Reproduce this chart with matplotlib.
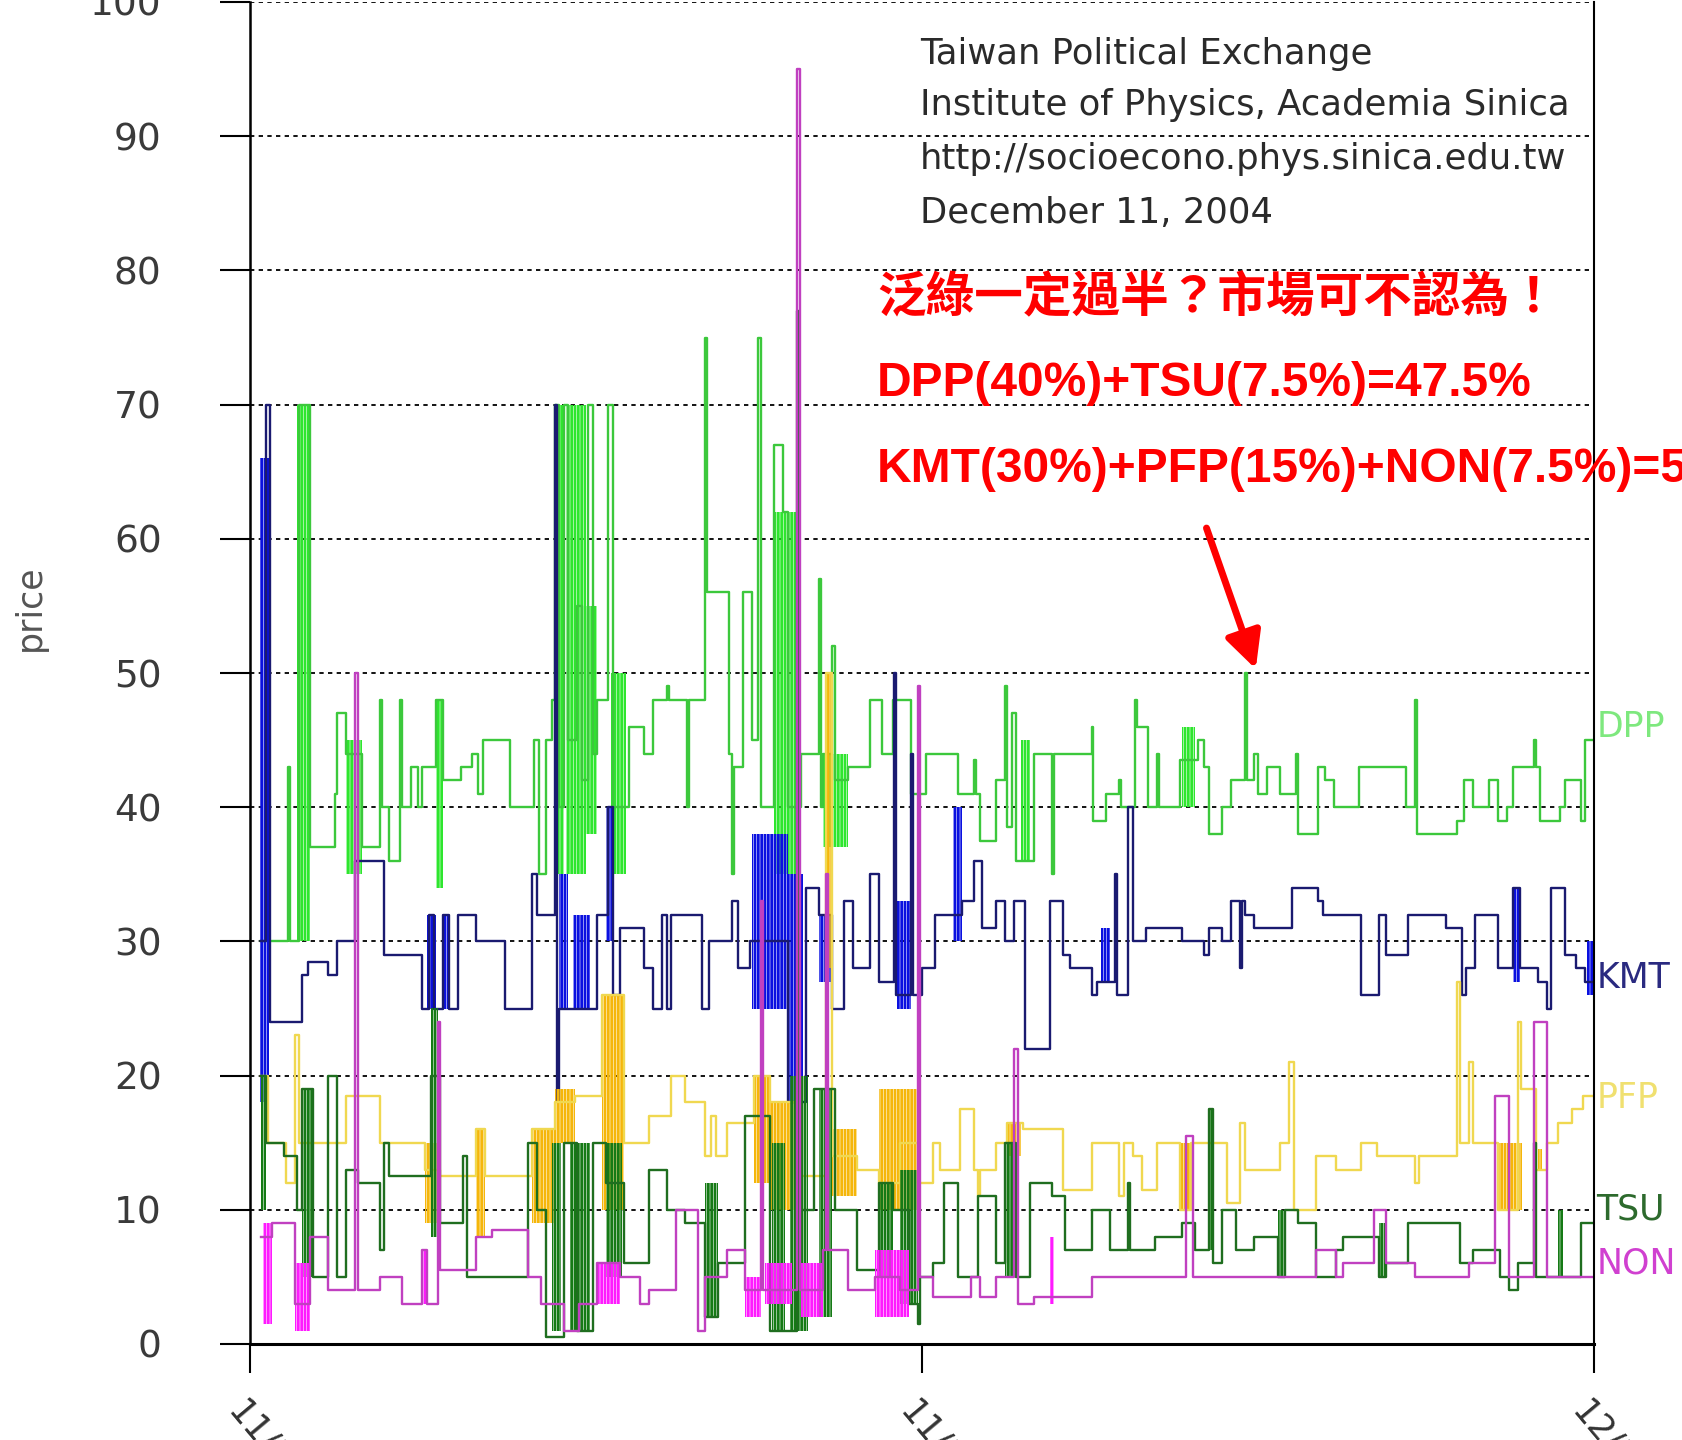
import matplotlib.pyplot as plt
import matplotlib.transforms as mtransforms

# step series: time in days from 11/1, value = price
dpp_t = [0.25, 0.85, 0.9, 1.1, 1.35, 1.9, 1.95, 2.15, 2.5, 2.9, 2.95, 3.1, 3.35, 3.4, 3.6, 3.75, 3.85,
         4.15, 4.3, 4.7, 4.95, 5.1, 5.2, 5.8, 6.35, 6.45, 6.6, 6.75, 6.8, 6.9, 7.0, 7.1, 7.3, 7.4,
         7.55, 7.65, 7.75, 8.0, 8.1, 8.45, 8.8, 9.0, 9.3, 9.35, 9.75, 9.8, 10.15, 10.2, 10.7, 10.75,
         10.8, 11.0, 11.2, 11.35, 11.4, 11.7, 11.9, 12.0, 12.3, 12.7, 12.75, 12.8, 13.0, 13.05,
         13.35, 13.85, 14.1, 14.35, 14.5, 14.75, 15.1, 15.8, 16.15, 16.2, 16.3, 16.65, 16.85, 16.9,
         17.0, 17.1, 17.5, 17.9, 17.95, 18.7, 18.8, 18.82, 19.1, 19.4, 19.45, 19.75, 19.8, 20.05,
         20.25, 20.3, 20.75, 21.15, 21.3, 21.4, 21.7, 21.9, 22.2, 22.25, 22.4, 22.5, 22.7, 23.0,
         23.35, 23.4, 23.85, 24.0, 24.2, 24.75, 25.8, 26.0, 26.05, 26.95, 27.1, 27.3, 27.65, 27.85,
         28.05, 28.2, 28.65, 28.7, 28.8, 29.25, 29.35, 29.7, 29.8, 30.0]
dpp_v = [30, 43, 30, 70, 37, 41, 47, 44, 37, 48, 40, 36, 48, 40, 43, 40, 43,
         48, 42, 43, 44, 41, 45, 40, 45, 35, 45, 48, 70, 40, 70, 45, 55, 42,
         70, 44, 48, 70, 40, 46, 44, 48, 49, 48, 40, 48, 75, 56, 44, 35,
         43, 56, 45, 75, 40, 67, 62, 40, 44, 57, 40, 44, 52, 42,
         43, 48, 44, 48, 48, 41, 44, 41, 43.5, 41, 37.5, 42, 49, 38.5,
         47, 36, 44, 35, 44, 44, 46, 39, 41, 42, 40, 48, 46, 40,
         44, 40, 43.5, 45, 43, 38, 40, 42, 50, 42, 44, 41, 43, 41,
         44, 38, 43, 42, 40, 43, 40, 48, 38, 39, 42, 40, 42, 39,
         40, 43, 45, 43, 39, 40, 42, 39, 45, 45]

kmt_t = [0.25, 0.35, 0.45, 1.15, 1.3, 1.75, 1.95, 2.35, 3.0, 3.85, 4.0, 4.1, 4.3, 4.45, 4.65, 5.05,
         5.7, 6.3, 6.4, 6.8, 6.85, 6.9, 7.75, 8.0, 8.1, 8.25, 8.8, 9.0, 9.2, 9.3, 9.4, 10.1,
         10.25, 10.75, 10.9, 11.15, 12.0, 12.4, 12.7, 13.0, 13.25, 13.45, 13.85, 14.05, 14.37,
         14.42, 14.75, 14.8, 15.0, 15.3, 15.9, 16.15, 16.35, 16.65, 16.85, 17.05, 17.3, 17.85,
         18.15, 18.3, 18.8, 18.9, 19.3, 19.35, 19.6, 19.7, 20.0, 20.8, 21.3, 21.4, 21.7, 21.9,
         22.1, 22.15, 22.2, 22.4, 23.25, 23.85, 23.95, 24.8, 25.2, 25.35, 25.85, 26.7, 27.05,
         27.15, 27.35, 27.85, 28.2, 28.35, 28.75, 28.95, 29.05, 29.35, 29.6, 29.8, 30.0]
kmt_v = [30, 70, 24, 27.5, 28.5, 27.5, 30, 36, 29, 25, 32, 25, 32, 25, 32, 30,
         25, 35, 32, 70, 18, 25, 32, 40, 26, 31, 28, 25, 32, 25, 32, 25,
         30, 33, 28, 30, 18, 34, 32, 25, 33, 28, 35, 27, 50,
         26, 44, 26, 28, 32, 33, 36, 31, 33, 30, 33, 22, 33,
         29, 28, 26, 27, 35, 26, 40, 30, 31, 30, 29, 31, 30, 33,
         28, 33, 32, 31, 34, 33, 32, 26, 32, 29, 32, 31, 26,
         28, 32, 28, 34, 28, 27, 25, 34, 29, 28, 27, 27]

pfp_t = [0.25, 0.4, 0.8, 1.0, 1.1, 2.15, 2.9, 3.9, 4.25, 5.05, 5.25, 6.3, 6.8, 7.25, 7.85, 8.35,
         8.9, 9.4, 9.7, 10.15, 10.3, 10.4, 10.65, 11.25, 11.6, 12.2, 12.85, 13.0, 13.55, 14.05,
         14.5, 14.9, 15.25, 15.4, 15.85, 16.15, 16.25, 16.3, 16.65, 16.9, 17.25, 17.85, 18.15,
         18.8, 19.4, 19.5, 19.7, 19.9, 20.25, 20.75, 21.0, 21.8, 22.1, 22.2, 23.0, 23.2, 23.3,
         23.8, 24.25, 24.8, 25.15, 26.0, 26.1, 26.95, 27.0, 27.2, 27.3, 27.85, 28.3, 28.38,
         28.7, 28.95, 29.2, 29.5, 29.75, 30.0]
pfp_v = [20, 15, 12, 23, 15, 18.5, 15, 13, 12.5, 16, 12.5, 16, 18, 18.5, 26, 15,
         17, 20, 18, 14, 17, 14, 16.5, 20, 18, 12.5, 50, 14, 13, 12,
         15, 12, 15, 13, 17.5, 13, 11, 13, 15, 16.5, 16, 16, 11.5,
         15, 11, 15, 14, 11.5, 15, 10, 15, 10.5, 16.5, 13, 15, 21, 10,
         14, 13, 15, 14, 12, 14, 27, 15, 21, 15, 10, 24, 19,
         13, 15, 16.5, 17.5, 18.5, 18.5]

tsu_t = [0.25, 0.35, 0.75, 1.05, 1.15, 1.4, 1.75, 1.95, 2.15, 2.4, 2.9, 3.0, 3.1, 4.05, 4.25, 4.75,
         4.85, 6.2, 6.4, 6.6, 7.0, 7.3, 7.65, 7.95, 8.35, 8.9, 9.3, 9.7, 10.15, 10.45, 11.05,
         11.6, 12.2, 12.25, 12.6, 13.05, 13.55, 14.05, 14.35, 14.7, 14.9, 14.95, 15.25, 15.5,
         15.8, 16.25, 16.65, 16.85, 17.1, 17.4, 17.9, 18.2, 18.8, 19.2, 19.6, 19.65, 20.2, 20.8,
         21.1, 21.4, 21.5, 21.7, 22.0, 22.4, 22.95, 23.1, 23.4, 23.8, 24.25, 24.4, 25.2, 25.35,
         25.85, 27.0, 27.3, 27.9, 28.1, 28.3, 28.65, 28.7, 29.7, 30.0]
tsu_v = [20, 15, 14, 10, 19, 5, 20, 5, 13, 12, 7, 15, 12.5, 20, 9, 14,
         5, 15, 10, 0.5, 15, 1, 15, 12, 6, 13, 10, 9, 2, 6, 17,
         1, 77, 10, 19, 10, 5.5, 12, 10, 3, 1.5, 5, 6, 12,
         5, 11, 6, 15, 5, 12, 11, 7, 10, 7, 12, 7, 8, 9,
         7, 17.5, 6, 10, 7, 8, 5, 10, 9, 5, 7, 8, 5, 6,
         9, 6, 7, 5, 4, 6, 15, 5, 9, 9]

non_t = [0.25, 0.5, 1.0, 1.35, 1.75, 2.35, 2.42, 2.9, 3.4, 3.85, 3.95, 4.2, 4.25, 5.05, 5.4, 6.2,
         6.5, 7.0, 7.35, 7.75, 8.25, 8.7, 8.9, 9.5, 10.0, 10.15, 10.65, 11.05, 11.4, 11.45, 12.22,
         12.27, 12.8, 12.85, 12.9, 13.35, 13.95, 14.5, 14.9, 14.95, 15.25, 16.1, 16.3, 16.65,
         17.05, 17.15, 17.5, 18.8, 20.9, 21.05, 23.8, 24.25, 24.4, 25.1, 25.35, 26.0, 27.2, 27.8,
         28.1, 28.65, 28.95, 30.0]
non_v = [8, 9, 3, 8, 4, 50, 4, 5, 3, 7, 3, 24, 5.5, 8, 8.5, 5,
         3, 1, 3, 6, 5, 3, 4, 10, 1, 5, 7, 4, 33, 4, 95,
         4, 7, 35, 7, 4, 5, 4, 49, 5, 3.5, 5, 3.5, 5,
         22, 3, 3.5, 5, 15.5, 5, 7, 5, 6, 10, 6, 5, 6, 18.5,
         5, 24, 5, 5]

# dense trading bursts: (start, end, low, high)
dpp_bursts = [(1.05, 1.35, 30, 70), (2.15, 2.5, 35, 45), (4.15, 4.3, 34, 48), (6.85, 7.0, 35, 70),
              (7.05, 7.5, 35, 70), (7.5, 7.75, 38, 55), (8.05, 8.4, 35, 50), (11.7, 12.3, 35, 62),
              (12.8, 13.35, 37, 44), (17.2, 17.4, 36, 45), (20.8, 21.1, 40, 46)]
kmt_bursts = [(0.22, 0.42, 18, 66), (3.95, 4.15, 25, 32), (4.3, 4.45, 25, 32), (6.9, 7.1, 25, 35),
              (7.2, 7.6, 25, 32), (7.95, 8.1, 30, 40), (11.2, 12.0, 25, 38), (12.0, 12.35, 18, 35),
              (12.7, 13.0, 27, 32), (14.45, 14.75, 25, 33), (15.7, 15.9, 30, 40), (19.0, 19.2, 27, 31),
              (28.2, 28.35, 27, 34), (29.85, 30.0, 26, 30)]
pfp_bursts = [(3.9, 4.25, 9, 15), (5.05, 5.25, 8, 16), (6.3, 6.8, 9, 16), (6.8, 7.25, 15, 19),
              (7.85, 8.35, 10, 26), (11.25, 11.6, 12, 20), (11.6, 12.2, 10, 18), (12.85, 13.0, 28, 50),
              (13.0, 13.55, 11, 16), (14.05, 14.9, 10, 19), (16.9, 17.2, 14, 16.5), (20.75, 21.0, 10, 15),
              (27.85, 28.4, 10, 15), (28.75, 28.85, 13, 14.5)]
tsu_bursts = [(0.25, 0.35, 10, 20), (1.15, 1.4, 5, 19), (4.05, 4.2, 8, 25), (6.75, 6.95, 1, 15),
              (7.15, 7.6, 1, 15), (7.95, 8.3, 5, 15), (10.15, 10.45, 2, 12), (11.65, 11.95, 1, 15),
              (12.05, 12.45, 1, 20), (12.7, 13.0, 2, 19), (14.05, 14.35, 5, 12), (14.5, 14.9, 3, 13),
              (16.85, 17.1, 5, 15), (21.4, 21.5, 7, 17.5), (22.95, 23.1, 5, 10), (25.2, 25.35, 5, 9),
              (29.2, 29.3, 5, 10)]
non_bursts = [(0.3, 0.5, 1.5, 9), (1.0, 1.35, 1, 6), (3.85, 3.95, 3, 7), (7.75, 8.25, 3, 6),
              (11.05, 11.4, 2, 5), (11.5, 12.1, 3, 6), (12.3, 12.8, 2, 6), (13.95, 14.7, 2, 7),
              (17.85, 17.95, 3, 8)]

names = ['DPP', 'KMT', 'PFP', 'TSU', 'NON']
label_y = [46, 27.3, 18.3, 10, 6]
line_colors = ['#3cc83c', '#1a1a70', '#f0d850', '#1f6e1f', '#c040c0']
burst_colors = ['#2ee62e', '#0a10e0', '#f5b60a', '#157a15', '#ff1aff']
label_colors = ['#7ee87e', '#2a2a80', '#f0e070', '#2d6a2d', '#d040d0']

x_ticks = [0, 15, 30]
x_labels = ['11/1', '11/16', '12/1']

plt.rcParams['hatch.linewidth'] = 2.0

fig = plt.figure(figsize=(16.82, 14.4), dpi=100)
ax = fig.add_axes([250/1682, 96/1440, 1344/1682, 1342/1440])

series = [(dpp_t, dpp_v, dpp_bursts), (kmt_t, kmt_v, kmt_bursts), (pfp_t, pfp_v, pfp_bursts),
          (non_t, non_v, non_bursts), (tsu_t, tsu_v, tsu_bursts)]
order = [0, 1, 2, 4, 3]
for k, (t, v, bursts) in zip(order, series):
    for b in bursts:
        ax.bar(b[0], b[3]-b[2], width=b[1]-b[0], bottom=b[2], align='edge',
               facecolor='none', edgecolor=burst_colors[k], hatch='|||||', linewidth=0,
               zorder=2+k*0.1)
    ax.step(t, v, where='post', color=line_colors[k], lw=1.7, zorder=2.05+k*0.1)

for i in range(len(names)):
    ax.text(30.05, label_y[i], names[i], color=label_colors[i], fontsize=25,
            ha='left', va='center', clip_on=False)

ax.set_xlim(0, 30)
ax.set_ylim(0, 100)
ax.set_yticks(range(0, 101, 10))
ax.set_xticks(x_ticks)
ax.set_xticklabels([])
# rotated date labels, running off the bottom edge as in the original
shift = mtransforms.ScaledTranslation(-0.3, -0.5, fig.dpi_scale_trans)
for xt, lab in zip(x_ticks, x_labels):
    ax.text(xt, 0, lab, transform=ax.transData + shift, rotation=-50, ha='left', va='top',
            fontsize=25, color='#333333', clip_on=False)
ax.tick_params(axis='y', length=21.6, width=1.5, pad=42, labelsize=27, labelcolor='#3a3a3a')
ax.tick_params(axis='x', length=21, width=1.5)
ax.grid(axis='y', color='black', linestyle=(0, (2.4, 2.4)), lw=1.3)
ax.set_axisbelow(True)
ax.spines['top'].set_visible(False)
ax.spines['left'].set_linewidth(1.8)
ax.spines['bottom'].set_linewidth(2.2)
ax.spines['right'].set_linewidth(1.5)

fig.text(30/1682, 1-608/1440, 'price', rotation=90, fontsize=25, color='#555555',
         ha='center', va='center')

info = ['Taiwan Political Exchange', 'Institute of Physics, Academia Sinica',
        'http://socioecono.phys.sinica.edu.tw', 'December 11, 2004']
info_y = [54, 105, 159, 213]
for s, y in zip(info, info_y):
    fig.text(920/1682, 1-y/1440, s, fontsize=25.5, color='#2a2a2a', ha='left', va='center')

fig.text(877/1682, 1-298/1440, '泛綠一定過半？市場可不認為！', fontsize=35, color='red',
         fontweight='bold', family=['Noto Sans CJK TC', 'DejaVu Sans'], ha='left', va='center')
fig.text(877/1682, 1-383/1440, 'DPP(40%)+TSU(7.5%)=47.5%', fontsize=34.5, color='red',
         fontweight='bold', family='Liberation Sans', ha='left', va='center')
fig.text(877/1682, 1-469/1440, 'KMT(30%)+PFP(15%)+NON(7.5%)=52.5%', fontsize=34.5, color='red',
         fontweight='bold', family='Liberation Sans', ha='left', va='center')

ax.annotate('', xy=(22.45, 50.3), xytext=(21.35, 60.8),
            arrowprops=dict(arrowstyle='-|>', color='red', lw=5, mutation_scale=55,
                            shrinkA=0, shrinkB=0))

fig.savefig('out.png', dpi=100)
